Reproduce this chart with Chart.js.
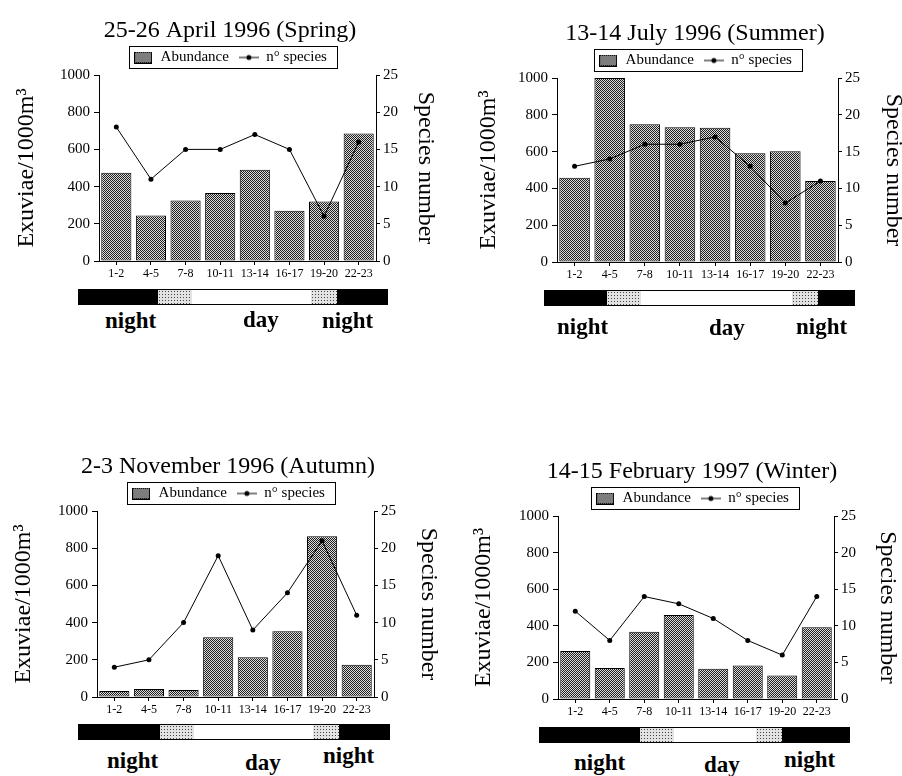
<!DOCTYPE html>
<html>
<head>
<meta charset="utf-8">
<script src="https://cdn.jsdelivr.net/npm/chart.js@4.4.1/dist/chart.umd.min.js"></script>
<style>
html, body { margin: 0; padding: 0; overflow: hidden; }
body { width: 902px; height: 776px; position: relative; background: #fff; font-family: "Liberation Serif", "Times New Roman", serif; }
canvas { position: absolute; }
.strip { position: absolute; height: 16px; display: flex; border: 1px solid #000; box-sizing: border-box; }
.strip div { height: 100%; }
.n { background: #000; }
.t { background-color: #e2e2e2; background-image: radial-gradient(circle, #444 0.7px, transparent 1px); background-size: 3px 3px; }
.d { background: #fff; }
.lab { position: absolute; font-size: 23px; font-weight: bold; line-height: 1; color: #000; }
</style>
</head>
<body>
<canvas id="spring" width="460" height="290" style="left:0;top:0"></canvas>
<canvas id="summer" width="450" height="290" style="left:470px;top:0"></canvas>
<canvas id="autumn" width="456" height="290" style="left:0;top:430px"></canvas>
<canvas id="winter" width="454" height="290" style="left:465px;top:430px"></canvas>

<div class="strip" style="left:78px;top:289px;width:310px"><div class="n" style="width:79px"></div><div class="t" style="width:34px"></div><div class="d" style="width:119px"></div><div class="t" style="width:26px"></div><div class="n" style="flex:1"></div></div>
<div class="strip" style="left:544px;top:290px;width:311px"><div class="n" style="width:62px"></div><div class="t" style="width:34px"></div><div class="d" style="width:151px"></div><div class="t" style="width:26px"></div><div class="n" style="flex:1"></div></div>
<div class="strip" style="left:78px;top:724px;width:312px"><div class="n" style="width:81px"></div><div class="t" style="width:34px"></div><div class="d" style="width:119px"></div><div class="t" style="width:26px"></div><div class="n" style="flex:1"></div></div>
<div class="strip" style="left:539px;top:727px;width:311px"><div class="n" style="width:100px"></div><div class="t" style="width:34px"></div><div class="d" style="width:82px"></div><div class="t" style="width:26px"></div><div class="n" style="flex:1"></div></div>

<div class="lab" style="left:105px;top:309px">night</div>
<div class="lab" style="left:243px;top:308px">day</div>
<div class="lab" style="left:322px;top:309px">night</div>

<div class="lab" style="left:557px;top:315px">night</div>
<div class="lab" style="left:709px;top:316px">day</div>
<div class="lab" style="left:796px;top:315px">night</div>

<div class="lab" style="left:107px;top:749px">night</div>
<div class="lab" style="left:245px;top:751px">day</div>
<div class="lab" style="left:323px;top:744px">night</div>

<div class="lab" style="left:574px;top:751px">night</div>
<div class="lab" style="left:704px;top:753px">day</div>
<div class="lab" style="left:784px;top:748px">night</div>

<script>
// sampling hours
const hours = ['1-2', '4-5', '7-8', '10-11', '13-14', '16-17', '19-20', '22-23'];

// exuviae per 1000 m3 (left axis)
const springAbundance = [475, 245, 325, 365, 490, 270, 320, 685];
const summerAbundance = [458, 1000, 748, 733, 730, 591, 602, 440];
const autumnAbundance = [32, 43, 37, 321, 214, 354, 864, 173];
const winterAbundance = [262, 170, 367, 459, 165, 183, 128, 392];

// number of species (right axis)
const springSpecies = [18, 11, 15, 15, 17, 15, 6, 16];
const summerSpecies = [13, 14, 16, 16, 17, 13, 8, 11];
const autumnSpecies = [4, 5, 10, 19, 9, 14, 21, 11];
const winterSpecies = [12, 8, 14, 13, 11, 8, 6, 14];

const abundanceTicks = [0, 200, 400, 600, 800, 1000];
const speciesTicks = [0, 5, 10, 15, 20, 25];

Chart.defaults.font.family = "'Liberation Serif', 'Times New Roman', serif";
Chart.defaults.color = '#000';

// dithered grey fill for the bars
const tile = document.createElement('canvas');
tile.width = tile.height = 4;
const tc = tile.getContext('2d');
tc.fillStyle = '#dcdcdc';
tc.fillRect(0, 0, 4, 4);
tc.fillStyle = '#1e1e1e';
for (let y = 0; y < 4; y++) {
    for (let x = 0; x < 4; x++) {
        if ((x + y) % 2 === 0) tc.fillRect(x, y, 1, 1);
    }
}
const barFill = tc.createPattern(tile, 'repeat');

// legend icons
const barIcon = document.createElement('canvas');
barIcon.width = 18; barIcon.height = 12;
const bi = barIcon.getContext('2d');
bi.fillStyle = bi.createPattern(tile, 'repeat');
bi.fillRect(0, 0, 18, 12);
bi.strokeStyle = '#000';
bi.strokeRect(0.5, 0.5, 17, 11);

const lineIcon = document.createElement('canvas');
lineIcon.width = 20; lineIcon.height = 8;
const li = lineIcon.getContext('2d');
li.strokeStyle = '#000';
li.beginPath(); li.moveTo(0, 4); li.lineTo(20, 4); li.stroke();
li.fillStyle = '#000';
li.beginPath(); li.arc(10, 4, 2.5, 0, Math.PI * 2); li.fill();

// frame round the legend
const legendFrame = {
    id: 'legendFrame',
    afterDraw(chart) {
        const hb = chart.legend && chart.legend.legendHitBoxes;
        if (!hb || !hb.length) return;
        const x0 = Math.min(...hb.map(h => h.left));
        const x1 = Math.max(...hb.map(h => h.left + h.width));
        const ctx = chart.ctx;
        ctx.save();
        ctx.strokeStyle = '#000';
        ctx.lineWidth = 1;
        ctx.strokeRect(Math.round(x0 - 4) + 0.5, Math.round(hb[0].top - 4) + 0.5, Math.round(x1 - x0 + 14), hb[0].height + 7);
        ctx.restore();
    }
};

function panel(id, title, abundance, species, lay) {
    new Chart(document.getElementById(id), {
        type: 'bar',
        data: {
            labels: hours,
            datasets: [{
                label: 'Abundance',
                data: abundance,
                yAxisID: 'y',
                backgroundColor: barFill,
                borderColor: '#000',
                borderWidth: 1,
                borderSkipped: false,
                barPercentage: 0.87,
                categoryPercentage: 1,
                order: 2
            }, {
                type: 'line',
                label: 'n° species',
                data: species,
                yAxisID: 'y2',
                borderColor: '#000',
                borderWidth: 1,
                pointRadius: 2.5,
                pointBackgroundColor: '#000',
                pointBorderWidth: 0,
                order: 1
            }]
        },
        options: {
            responsive: false,
            animation: false,
            layout: { padding: { top: lay.top, left: 0, right: 0, bottom: 0 } },
            plugins: {
                tooltip: { enabled: false },
                title: {
                    display: true,
                    text: title,
                    color: '#000',
                    font: { size: 24, weight: 'normal', lineHeight: 1 },
                    padding: { top: 0, bottom: -3 }
                },
                legend: {
                    display: true,
                    position: 'top',
                    labels: {
                        color: '#000',
                        font: { size: 15 },
                        usePointStyle: true,
                        pointStyleWidth: 20,
                        padding: 10,
                        sort: (a, b) => a.datasetIndex - b.datasetIndex,
                        generateLabels: chart => Chart.defaults.plugins.legend.labels.generateLabels(chart)
                            .map(it => Object.assign(it, { pointStyle: it.datasetIndex === 0 ? barIcon : lineIcon }))
                    }
                }
            },
            scales: {
                x: {
                    offset: true,
                    grid: { display: true, drawOnChartArea: false, offset: false, tickLength: 4, color: '#000' },
                    border: { color: '#000' },
                    ticks: { font: { size: 12 }, color: '#000', maxRotation: 0, autoSkip: false, padding: 2 },
                    afterFit: s => { s.height = lay.xh; }
                },
                y: {
                    position: 'left',
                    min: 0,
                    max: 1000,
                    afterBuildTicks: s => { s.ticks = abundanceTicks.map(v => ({ value: v })); },
                    grid: { drawOnChartArea: false, tickLength: 5, color: '#000' },
                    border: { color: '#000' },
                    ticks: { font: { size: 15 }, color: '#000', padding: 4, callback: v => String(v) },
                    title: { display: true, text: 'Exuviae/1000m³', color: '#000', font: { size: 24 }, padding: { top: lay.lt, bottom: 0 } },
                    afterFit: s => { s.width = lay.lw; }
                },
                y2: {
                    position: 'right',
                    min: 0,
                    max: 25,
                    afterBuildTicks: s => { s.ticks = speciesTicks.map(v => ({ value: v })); },
                    grid: { drawOnChartArea: false, tickLength: 4, color: '#000' },
                    border: { color: '#000' },
                    ticks: { font: { size: 15 }, color: '#000', padding: 3, callback: v => String(v) },
                    title: { display: true, text: 'Species number', color: '#000', font: { size: 24 }, padding: { top: lay.rt, bottom: 0 } },
                    afterFit: s => { s.width = lay.rw; }
                }
            }
        },
        plugins: [legendFrame]
    });
}

panel('spring', '25-26 April 1996 (Spring)', springAbundance, springSpecies,
    { top: 19, lw: 99, rw: 84, xh: 29, lt: 12, rt: 20 });
panel('summer', '13-14 July 1996 (Summer)', summerAbundance, summerSpecies,
    { top: 22, lw: 87, rw: 82, xh: 28, lt: 4, rt: 12 });
panel('autumn', '2-3 November 1996 (Autumn)', autumnAbundance, autumnSpecies,
    { top: 25, lw: 97, rw: 82, xh: 23, lt: 9, rt: 13 });
panel('winter', '14-15 February 1997 (Winter)', winterAbundance, winterSpecies,
    { top: 30, lw: 93, rw: 85, xh: 21, lt: 4, rt: 17 });
</script>
</body>
</html>
